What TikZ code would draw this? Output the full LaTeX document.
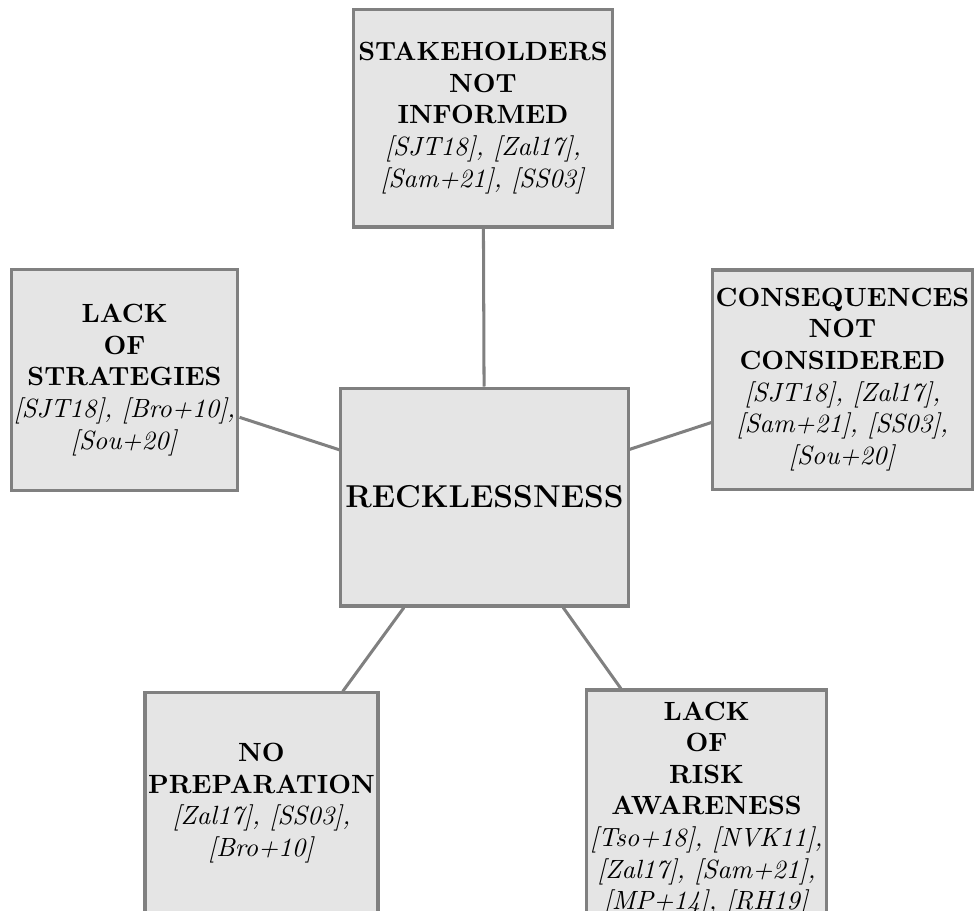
\documentclass[tikz,border=0pt]{standalone}
\usepackage{fontspec}
\begin{document}
\begin{tikzpicture}[x=0.3794pt,y=-0.3794pt,
  box/.style={draw=black!50, fill=black!10, line width=1.15pt, inner sep=0pt,
              align=center, font=\normalsize},
  link/.style={draw=black!50, line width=1.15pt},
]
\useasboundingbox (0,0) rectangle (976,911);
\begin{scope}
\clip (0,0) rectangle (976,911);

% central concept
\node[box, minimum width=108.9pt, minimum height=82.7pt] (center) at (484.5,497)
  {\large\bfseries RECKLESSNESS};

% surrounding causes
\node[box, minimum width=97.9pt, minimum height=82.7pt] (top) at (483,118)
  {\textbf{STAKEHOLDERS}\\ \textbf{NOT}\\ \textbf{INFORMED}\\
   \textit{[SJT18], [Zal17],}\\ \textit{[Sam+21], [SS03]}};
\node[box, minimum width=86.1pt, minimum height=83.5pt] (left) at (124.5,380)
  {\textbf{LACK}\\ \textbf{OF}\\ \textbf{STRATEGIES}\\
   \textit{[SJT18], [Bro+10],}\\ \textit{[Sou+20]}};
\node[box, minimum width=98.3pt, minimum height=83.1pt] (right) at (842.5,379.5)
  {\textbf{CONSEQUENCES}\\ \textbf{NOT}\\ \textbf{CONSIDERED}\\
   \textit{[SJT18], [Zal17],}\\ \textit{[Sam+21], [SS03],}\\ \textit{[Sou+20]}};
\node[box, minimum width=88.4pt, minimum height=83.5pt] (bleft) at (261.5,803)
  {\textbf{NO}\\ \textbf{PREPARATION}\\
   \textit{[Zal17], [SS03],}\\ \textit{[Bro+10]}};
\node[box, minimum width=90.7pt, minimum height=90.3pt] (bright) at (706.5,809)
  {\textbf{LACK}\\ \textbf{OF}\\ \textbf{RISK}\\ \textbf{AWARENESS}\\
   \textit{[Tso+18], [NVK11],}\\ \textit{[Zal17], [Sam+21],}\\ \textit{[MP+14], [RH19]}};

\draw[link] (center) -- (top);
\draw[link] (center) -- (left);
\draw[link] (center) -- (right);
\draw[link] (center) -- (bleft);
\draw[link] (center) -- (bright);
\end{scope}
\end{tikzpicture}
\end{document}
